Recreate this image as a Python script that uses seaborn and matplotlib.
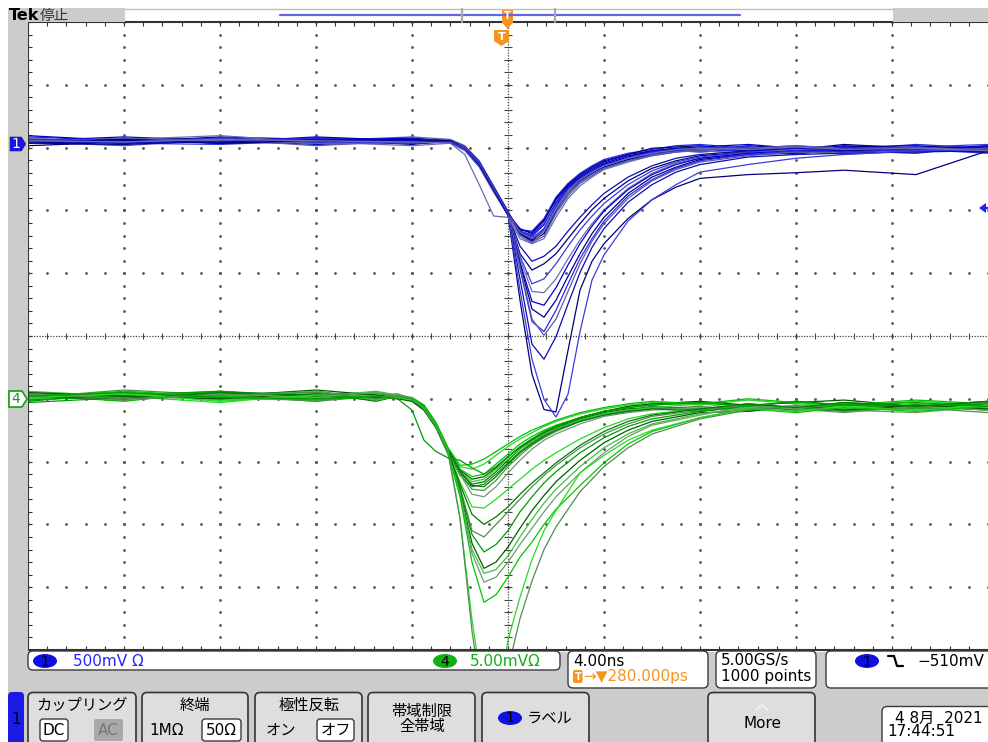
import numpy as np
import pandas as pd
import seaborn as sns
import matplotlib
matplotlib.use("Agg")
from matplotlib import pyplot as plt
from matplotlib.patches import FancyBboxPatch, Ellipse, Polygon, Rectangle

# ---- channel settings
ch1_scale_mv = 500.0   # mV/div
ch1_offset_div = 3.07  # marker position
ch4_scale_mv = 5.0
ch4_offset_div = -1.0

# ---- channel 1 (blue), key points: time in ns, level in mV
blue_t = [-20, -16, -12, -8, -4, -2.4, -1.8, -1.2, -0.6, 0, 0.5, 1.0, 1.5, 2.0, 2.5,
          3.0, 3.5, 4.0, 5.0, 6.0, 7.0, 8.0, 10, 12, 14, 17, 20]

b_s01 = [30, 10, 40, 0, 20, 10, -40, -170, -370, -560, -700, -740, -650, -470, -350, -270, -210, -160, -100, -70, -50, -40, -30, -60, -20, -50, -30]
b_s02 = [0, 40, 10, 30, -10, 20, -30, -150, -350, -550, -720, -770, -700, -520, -380, -290, -230, -170, -110, -60, -40, -60, -20, -40, -70, -30, -60]
b_s03 = [50, 20, 0, 40, 30, 0, -50, -180, -380, -570, -690, -700, -600, -430, -320, -240, -180, -130, -80, -50, -20, -10, -40, -20, -50, -10, -40]
b_s04 = [10, -20, 30, 20, 50, 30, -20, -140, -340, -540, -730, -790, -740, -560, -420, -320, -260, -200, -140, -90, -70, -50, -60, -90, -40, -70, -50]
b_s05 = [20, 50, 20, -10, 10, 20, -40, -160, -360, -560, -710, -760, -680, -500, -360, -280, -220, -170, -120, -80, -60, -70, -50, -30, -60, -80, -20]
b_s06 = [-20, 10, 50, 30, 0, 10, -50, -170, -370, -565, -680, -720, -620, -440, -330, -250, -190, -140, -90, -40, -30, -20, -60, -50, -10, -40, -70]
b_s07 = [40, 0, -10, 20, 40, 20, -30, -150, -350, -550, -700, -750, -690, -510, -370, -290, -230, -180, -130, -90, -60, -40, -30, -70, -50, -30, -10]
b_s08 = [10, 30, 60, 10, -20, 0, -60, -190, -390, -575, -740, -800, -760, -590, -440, -340, -270, -210, -150, -100, -70, -60, -80, -50, -90, -60, -40]
b_s09 = [60, 20, 10, 50, 20, 10, -40, -160, -360, -555, -690, -710, -610, -450, -340, -260, -200, -150, -90, -60, -40, -30, -10, -40, -30, -50, -20]
b_s10 = [0, -10, 20, 40, 10, 20, -30, -150, -350, -550, -720, -780, -720, -540, -400, -300, -240, -190, -130, -80, -50, -50, -40, -60, -30, -20, -50]
b_s11 = [20, 40, 0, 10, 30, 10, -40, -170, -370, -560, -700, -730, -640, -480, -370, -290, -230, -180, -120, -70, -60, -40, -70, -40, -60, -50, -80]
b_s12 = [30, 0, 30, -20, 20, 20, -40, -160, -360, -560, -710, -760, -700, -530, -400, -310, -250, -200, -140, -100, -70, -50, -40, -20, -40, -70, -40]
b_m01 = [10, 30, 20, 40, 0, 10, -40, -170, -370, -570, -820, -940, -900, -820, -700, -590, -490, -400, -270, -180, -120, -90, -60, -40, -60, -50, -30]
b_m02 = [20, 0, 40, 10, 30, 20, -30, -160, -360, -560, -880, -1010, -960, -880, -760, -640, -530, -440, -300, -200, -140, -100, -70, -70, -40, -60, -50]
b_m03 = [0, 20, 10, 30, 20, 10, -40, -170, -370, -570, -900, -1120, -1080, -960, -820, -690, -580, -480, -330, -220, -150, -110, -70, -60, -40, -30, -60]
b_m04 = [40, 10, 30, 0, 10, 20, -40, -160, -360, -560, -920, -1180, -1190, -1080, -920, -770, -640, -530, -360, -240, -160, -120, -80, -50, -70, -40, -50]
b_m05 = [20, 30, 0, 20, 40, 10, -40, -170, -370, -570, -950, -1260, -1290, -1150, -970, -800, -660, -540, -370, -250, -170, -120, -80, -60, -50, -60, -40]
b_m06 = [0, 20, 40, 10, 20, 20, -40, -160, -360, -560, -960, -1320, -1385, -1250, -1060, -880, -720, -590, -400, -270, -190, -130, -90, -80, -60, -50, -70]
b_m07 = [30, 10, 20, 40, 10, 10, -40, -170, -370, -570, -1000, -1420, -1500, -1330, -1120, -920, -760, -620, -420, -290, -200, -140, -90, -60, -70, -50, -60]
b_m08 = [10, 40, 20, 0, 30, 20, -30, -160, -360, -560, -980, -1400, -1530, -1400, -1180, -960, -780, -640, -440, -300, -210, -150, -100, -70, -80, -60, -40]
b_m09 = [20, 0, 10, 30, 20, 10, -40, -170, -370, -570, -1080, -1600, -1720, -1540, -1280, -1030, -830, -680, -470, -330, -230, -170, -110, -90, -80, -70, -60]
b_d01 = [10, 30, 0, 20, 30, 20, -40, -170, -370, -570, -1250, -1840, -2120, -2140, -1650, -1170, -940, -800, -600, -450, -350, -280, -250, -235, -215, -250, -60]
b_d02 = [20, 10, 40, 10, 0, 10, -40, -160, -360, -560, -1170, -1720, -2040, -2180, -2000, -1500, -1090, -890, -620, -450, -330, -230, -170, -120, -90, -60, -50]
b_e01 = [20, 10, 30, 20, 10, 0, -90, -330, -580, -590, -760, -800, -700, -520, -380, -290, -230, -180, -120, -80, -50, -40, -50, -30, -50, -40, -60]

# ---- channel 4 (green), key points: time in ns, level in mV
green_t = [-20, -16, -12, -8, -5.5, -4.6, -4.0, -3.5, -3.0, -2.5, -2.0, -1.5, -1.0, -0.5, 0,
           0.5, 1.0, 1.5, 2.0, 3.0, 4.0, 5.0, 6.0, 8.0, 10, 12, 14, 17, 20]

g_s01 = [0.3, -0.2, 0.6, 0.1, 0.4, 0.2, 0.0, -0.6, -2.0, -4.0, -5.6, -6.2, -6.0, -5.2, -4.4, -3.6, -3.0, -2.5, -2.1, -1.5, -1.0, -0.7, -0.5, -0.3, -0.6, -0.2, -0.5, -0.8, -0.4]
g_s02 = [-0.2, 0.5, 0.1, 0.6, 0.0, 0.3, -0.1, -0.8, -2.2, -4.2, -5.9, -6.8, -6.6, -5.8, -4.9, -4.0, -3.3, -2.8, -2.3, -1.6, -1.1, -0.8, -0.7, -0.9, -0.4, -0.7, -0.3, -0.6, -0.9]
g_s03 = [0.6, 0.2, -0.3, 0.4, 0.5, 0.1, 0.1, -0.5, -1.9, -3.9, -5.4, -5.6, -5.2, -4.5, -3.8, -3.2, -2.7, -2.2, -1.8, -1.2, -0.8, -0.5, -0.3, -0.5, -0.1, -0.4, -0.6, -0.2, -0.5]
g_s04 = [0.1, 0.7, 0.3, -0.2, 0.2, 0.4, 0.0, -0.7, -2.1, -4.1, -6.0, -7.2, -7.3, -6.5, -5.4, -4.5, -3.7, -3.1, -2.6, -1.8, -1.3, -1.0, -0.8, -0.6, -0.9, -0.5, -0.8, -0.4, -0.7]
g_s05 = [-0.3, 0.1, 0.5, 0.3, -0.1, 0.2, -0.2, -0.9, -2.3, -4.3, -6.1, -7.0, -6.8, -6.0, -5.1, -4.2, -3.5, -2.9, -2.4, -1.7, -1.2, -0.9, -0.6, -0.8, -0.5, -0.9, -0.4, -0.7, -0.3]
g_s06 = [0.4, 0.0, 0.2, 0.7, 0.3, 0.0, -0.1, -0.6, -2.0, -4.0, -5.7, -6.4, -6.2, -5.5, -4.6, -3.9, -3.2, -2.7, -2.2, -1.5, -1.0, -0.6, -0.4, -0.2, -0.5, -0.3, -0.1, -0.6, -0.2]
g_s07 = [0.0, 0.4, -0.1, 0.2, 0.6, 0.3, 0.0, -0.7, -2.1, -4.1, -5.8, -6.6, -6.4, -5.6, -4.8, -4.0, -3.4, -2.8, -2.4, -1.7, -1.2, -0.9, -0.7, -0.4, -0.8, -0.6, -0.9, -0.5, -0.8]
g_s08 = [0.5, 0.3, 0.0, -0.1, 0.2, 0.1, -0.1, -0.8, -2.2, -4.2, -6.0, -7.6, -7.8, -7.0, -5.9, -4.9, -4.0, -3.3, -2.8, -2.0, -1.4, -1.1, -0.9, -0.7, -1.0, -0.6, -0.9, -1.1, -0.6]
g_s09 = [-0.1, 0.2, 0.6, 0.0, 0.1, 0.3, 0.1, -0.5, -1.9, -3.9, -5.3, -5.2, -4.8, -4.2, -3.6, -3.0, -2.5, -2.1, -1.7, -1.1, -0.7, -0.4, -0.2, -0.4, 0.0, -0.3, -0.5, -0.1, -0.4]
g_s10 = [0.2, -0.1, 0.4, 0.5, -0.2, 0.2, -0.1, -0.7, -2.1, -4.1, -5.8, -6.9, -7.0, -6.2, -5.2, -4.3, -3.6, -3.0, -2.5, -1.8, -1.3, -1.0, -0.8, -1.0, -0.6, -0.8, -1.0, -0.5, -0.9]
g_m01 = [0.2, 0.5, -0.1, 0.3, 0.1, 0.3, -0.1, -0.8, -2.2, -4.3, -6.6, -8.6, -8.7, -8.0, -7.2, -6.4, -5.6, -4.9, -4.3, -3.2, -2.3, -1.6, -1.2, -0.8, -0.9, -0.5, -0.8, -0.4, -0.7]
g_m02 = [0.4, 0.1, 0.3, -0.2, 0.5, 0.1, 0.0, -0.7, -2.1, -4.2, -7.0, -10.5, -11.0, -10.0, -9.0, -8.0, -7.0, -6.1, -5.3, -3.9, -2.8, -2.0, -1.4, -0.9, -0.5, -0.8, -0.4, -0.6, -0.3]
g_m03 = [-0.1, 0.3, 0.6, 0.2, 0.0, 0.2, -0.1, -0.8, -2.2, -4.3, -7.2, -10.8, -12.2, -11.6, -10.5, -9.0, -7.8, -6.7, -5.8, -4.3, -3.1, -2.2, -1.6, -1.0, -0.6, -0.9, -0.5, -0.7, -0.4]
g_m04 = [0.5, 0.2, 0.0, 0.4, 0.3, 0.0, -0.2, -0.9, -2.3, -4.4, -7.4, -11.5, -13.5, -13.0, -11.8, -10.3, -8.9, -7.7, -6.6, -4.9, -3.5, -2.5, -1.8, -1.1, -1.0, -0.6, -0.9, -0.5, -0.8]
g_m05 = [0.0, 0.4, 0.2, 0.6, -0.1, 0.2, 0.0, -0.7, -2.1, -4.2, -7.5, -12.0, -13.9, -13.6, -12.5, -11.0, -9.6, -8.3, -7.2, -5.4, -3.9, -2.8, -2.0, -1.2, -0.7, -1.0, -0.6, -0.9, -0.5]
g_m06 = [0.3, -0.1, 0.4, 0.1, 0.5, 0.3, 0.0, -0.8, -2.2, -4.3, -7.6, -12.3, -14.6, -14.2, -13.0, -11.6, -10.3, -9.0, -7.8, -5.9, -4.3, -3.0, -2.1, -1.3, -0.6, -0.8, -1.1, -0.6, -0.9]
g_m07 = [0.1, 0.6, 0.2, -0.1, 0.2, 0.1, -0.1, -0.8, -2.2, -4.3, -7.8, -13.0, -16.2, -15.6, -14.2, -12.6, -11.4, -10.0, -8.8, -6.9, -5.1, -3.6, -2.6, -1.5, -0.8, -1.1, -0.7, -1.0, -0.6]
g_m08 = [0.2, 0.0, 0.5, 0.3, 0.1, 0.2, -0.1, -0.7, -2.1, -4.2, -6.8, -9.2, -10.0, -9.4, -8.6, -7.6, -6.7, -5.9, -5.1, -3.7, -2.6, -1.8, -1.3, -0.8, -0.4, -0.7, -0.3, -0.6, -0.2]
g_d01 = [0.1, 0.4, -0.2, 0.3, 0.2, 0.1, -0.1, -0.7, -2.1, -4.1, -9.5, -17.6, -24.0, -25.0, -19.2, -15.8, -12.8, -10.5, -8.9, -5.9, -4.5, -3.3, -2.5, -1.5, -0.8, -1.0, -0.6, -0.9, -0.5]
g_d02 = [0.4, 0.0, 0.3, 0.5, 0.0, 0.2, 0.0, -0.8, -2.2, -4.3, -9.5, -18.5, -25.0, -26.0, -21.5, -17.5, -14.5, -12.0, -10.2, -7.4, -5.4, -3.9, -2.8, -1.6, -0.9, -0.6, -1.0, -0.7, -1.1]
g_e01 = [0.2, 0.5, 0.1, 0.0, 0.2, 0.0, -0.9, -3.3, -4.2, -4.7, -4.9, -5.5, -6.0, -5.4, -4.6, -3.8, -3.2, -2.6, -2.2, -1.5, -1.0, -0.7, -0.5, -0.3, -0.6, -0.2, -0.5, -0.3, -0.6]

blue_traces = [b_s01, b_s02, b_s03, b_s04, b_s05, b_s06, b_s07, b_s08, b_s09, b_s10, b_s11, b_s12,
               b_m01, b_m02, b_m03, b_m04, b_m05, b_m06, b_m07, b_m08, b_m09, b_d01, b_d02, b_e01]
green_traces = [g_s01, g_s02, g_s03, g_s04, g_s05, g_s06, g_s07, g_s08, g_s09, g_s10,
                g_m01, g_m02, g_m03, g_m04, g_m05, g_m06, g_m07, g_m08, g_d01, g_d02, g_e01]

blue_shades = ["#0000d2", "#000090", "#2a2ae2", "#5a5aaa", "#0a0ab8", "#00007c", "#3c3cd8", "#6c6cb4"]
green_shades = ["#00c400", "#007a00", "#24da24", "#4e8e4e", "#009c00", "#005e00", "#40c040", "#6c9c6c"]


def to_frame(prefix, traces, t, scale, offset):
    rows = []
    for i, mv in enumerate(traces):
        for ti, v in zip(t, mv):
            rows.append((f"{prefix}{i:02d}", ti, offset + v / scale))
    return pd.DataFrame(rows, columns=["trace", "t", "div"])


blue_df = to_frame("b", blue_traces, blue_t, ch1_scale_mv, ch1_offset_div)
green_df = to_frame("g", green_traces, green_t, ch4_scale_mv, ch4_offset_div)
blue_pal = {n: blue_shades[i % len(blue_shades)] for i, n in enumerate(blue_df["trace"].unique())}
green_pal = {n: green_shades[i % len(green_shades)] for i, n in enumerate(green_df["trace"].unique())}

sns.set_theme(style="white")
plt.rcParams["font.family"] = ["DejaVu Sans", "Noto Sans CJK JP"]

W, H = 988, 742
fig = plt.figure(figsize=(W / 100, H / 100), dpi=100)
fig.patch.set_facecolor("white")
ax = fig.add_axes([28 / W, 92 / H, 960 / W, 628 / H])
ax.set_facecolor("white")

# graticule
major_x = [-16, -12, -8, -4, 4, 8, 12, 16]
major_y = [-4, -3, -2, -1, 1, 2, 3, 4]
minor_x = np.arange(-20, 20.001, 0.8)
minor_y = np.arange(-5, 5.001, 0.2)
gx, gy = np.meshgrid(major_x, minor_y)
ax.plot(gx.ravel(), gy.ravel(), ls="none", marker="s", ms=0.9, color="#555555", zorder=1)
gx, gy = np.meshgrid(minor_x, major_y)
ax.plot(gx.ravel(), gy.ravel(), ls="none", marker="s", ms=0.9, color="#555555", zorder=1)
ax.axhline(0, color="#444444", lw=0.9, ls=(0, (1, 1.2)), zorder=1)
ax.axvline(0, color="#444444", lw=0.9, ls=(0, (1, 1.2)), zorder=1)
ax.plot(minor_x, np.zeros_like(minor_x), ls="none", marker="|", ms=5, mew=0.8, color="#444444", zorder=1)
ax.plot(np.zeros_like(minor_y), minor_y, ls="none", marker="_", ms=6, mew=0.8, color="#444444", zorder=1)

sns.lineplot(data=blue_df, x="t", y="div", hue="trace", palette=blue_pal, estimator=None,
             legend=False, linewidth=0.9, ax=ax)
sns.lineplot(data=green_df, x="t", y="div", hue="trace", palette=green_pal, estimator=None,
             legend=False, linewidth=0.9, ax=ax)

ax.set_xlim(-20, 20)
ax.set_ylim(-5, 5)
ax.set_xlabel("")
ax.set_ylabel("")
ax.set_xticks(minor_x)
ax.set_yticks(minor_y)
ax.tick_params(axis="both", which="both", direction="in", length=3, width=0.8, color="#333333",
               top=True, bottom=True, left=True, right=False, labelbottom=False, labelleft=False)
for side in ["left", "top", "bottom"]:
    ax.spines[side].set_color("#333333")
    ax.spines[side].set_linewidth(1.5)
ax.spines["right"].set_visible(False)

# ---- screen furniture, in pixel coordinates
ov = fig.add_axes([0, 0, 1, 1], zorder=5)
ov.set_xlim(0, W)
ov.set_ylim(H, 0)
ov.axis("off")

GRAY = "#cccccc"
for x, y, w, h in [(8, 8, 19.5, 734), (8, 8, 117, 14), (893, 8, 95, 14), (8, 651.5, 980, 91)]:
    ov.add_patch(Rectangle((x, y), w, h, fc=GRAY, ec="none"))
ov.plot([125, 893], [8.5, 8.5], color="#c0c0c0", lw=1)


def box(x, y, w, h, fc="white", ec="#3a3a3a", r=5, lw=1.0):
    ov.add_patch(FancyBboxPatch((x, y), w, h, boxstyle=f"round,pad=0,rounding_size={r}",
                                fc=fc, ec=ec, lw=lw))


def txt(x, y, s, size=11, color="black", ha="left", **kw):
    ov.text(x, y, s, fontsize=size, color=color, ha=ha, va="center", **kw)


def badge(cx, cy, label, fc):
    ov.add_patch(Ellipse((cx, cy), 24, 14, fc=fc, ec="none"))
    txt(cx, cy + 0.5, label, size=10, ha="center")


# top bar
txt(9, 15.5, "Tek", size=11.5, fontweight="bold")
txt(40, 15.5, "停止", size=10.5, color="#333333")
ov.plot([280, 740], [14.5, 14.5], color="#6464e6", lw=1.6)
for bx in [462, 555]:
    ov.plot([bx, bx], [9, 22], color="#aaaaaa", lw=1.6)
ORANGE = "#f7941d"
box(502, 9, 11, 15, fc=ORANGE, ec="none", r=2)
ov.add_patch(Polygon([(502.5, 23), (512.5, 23), (507.5, 29)], fc=ORANGE, ec="none"))
txt(507.5, 16, "T", size=7, color="white", ha="center", fontweight="bold")
ov.add_patch(Polygon([(494, 30), (509, 30), (509, 41), (501.5, 46), (494, 41)], fc=ORANGE, ec="none"))
txt(501.5, 37, "T", size=8, color="white", ha="center", fontweight="bold")

# channel markers and trigger level
ov.add_patch(Polygon([(9, 136), (22, 136), (27, 144), (22, 152), (9, 152)], fc="#1515e8", ec="#d8d890", lw=1))
txt(15.5, 144, "1", size=10, color="white", ha="center")
ov.add_patch(Polygon([(9, 391), (22, 391), (27, 399), (22, 407), (9, 407)], fc="white", ec="#10a010", lw=1.2))
txt(15.5, 399, "4", size=10, color="#10a010", ha="center")
ov.add_patch(Polygon([(979, 208), (986, 203), (986, 213)], fc="#2020ff", ec="none"))
ov.plot([984, 988], [208, 208], color="#2020ff", lw=1.5)

# status readouts
box(28, 651, 532, 19)
badge(45, 661, "1", "#1010e0")
txt(73, 661, "500mV Ω", color="#2222ff")
badge(445, 661, "4", "#10b010")
txt(470, 661, "5.00mVΩ", color="#10b010")
box(568, 651, 140, 37)
txt(573, 661, "4.00ns")
box(573, 670, 9.5, 13, fc=ORANGE, ec="none", r=2)
txt(577.8, 676.5, "T", size=7, color="white", ha="center", fontweight="bold")
txt(583, 677, "→▼280.000ps", color=ORANGE)
box(716, 651, 100, 37)
txt(721, 661, "5.00GS/s")
txt(721, 677, "1000 points")
box(826, 651, 170, 37)
badge(867, 661, "1", "#1010e0")
ov.plot([888, 894, 897, 903], [656, 656, 666, 666], color="black", lw=1.6)
txt(917, 661, "−510mV")

# soft-key menu
box(8, 692, 16, 60, fc="#1a1ae6", ec="none", r=4)
txt(16, 719, "1", size=11, ha="center")
for x0, w in [(28, 108), (142, 106), (255, 107), (368, 107), (482, 107), (708, 107)]:
    box(x0, 692.5, w, 60, fc="#dedede", ec="#333333", r=5, lw=1.2)
txt(82, 705, "カップリング", ha="center")
box(40, 719, 28, 22, r=3)
txt(54, 730.5, "DC", ha="center")
box(94, 719, 29, 22, fc="#a9a9a9", ec="none", r=2)
txt(108.5, 730.5, "AC", ha="center", color="#777777")
txt(195, 705, "終端", ha="center")
txt(167, 730.5, "1MΩ", ha="center")
box(202, 719, 39, 22, r=3)
txt(221.5, 730.5, "50Ω", ha="center")
txt(309, 705, "極性反転", ha="center")
txt(281, 730.5, "オン", ha="center")
box(317, 719, 37, 22, r=3)
txt(335.5, 730.5, "オフ", ha="center")
txt(422, 711, "帯域制限", ha="center")
txt(422, 727, "全帯域", ha="center")
badge(510, 718, "1", "#1010e0")
txt(527, 718, "ラベル")
ov.plot([756, 762, 768], [710, 705, 710], color="#f4f4f4", lw=1.2)
txt(762, 724, "More", ha="center")
box(882, 706.5, 110, 40)
txt(983, 718, "4 8月  2021", ha="right")
txt(887, 732, "17:44:51")

fig.savefig("out.png", dpi=100, facecolor="white")
